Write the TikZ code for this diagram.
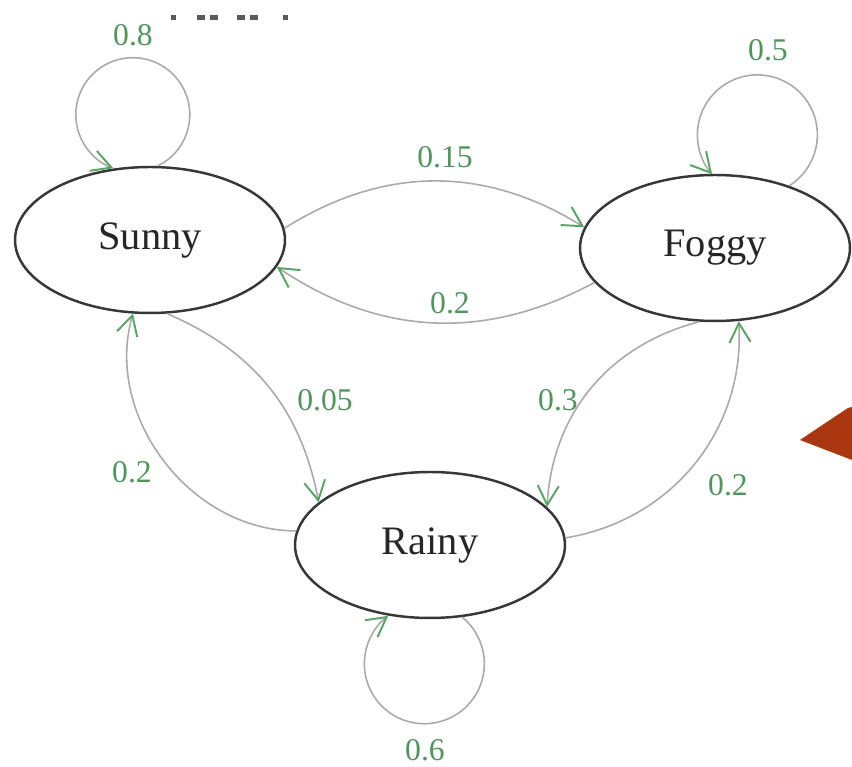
\documentclass[tikz,border=0pt]{standalone}
\usepackage{fontspec}
\setmainfont{Liberation Serif}
\usetikzlibrary{shapes.geometric,arrows.meta}
\definecolor{lblgreen}{RGB}{78,150,90}
\definecolor{arrgreen}{RGB}{85,165,100}
\definecolor{edgegray}{RGB}{170,170,170}
\definecolor{ringgray}{RGB}{55,55,55}
\definecolor{redarrow}{RGB}{170,55,15}
\definecolor{markgray}{RGB}{90,90,90}
\begin{document}
\begin{tikzpicture}[x=0.02cm,y=0.02cm,
  state/.style={ellipse,draw=ringgray,line width=1.4pt,minimum width=5.4cm,minimum height=2.92cm,inner sep=0pt,font=\fontsize{23}{27}\selectfont,text=black!85},
  edge/.style={draw=edgegray,line width=0.9pt,-{Straight Barb[length=11pt,width=12pt,color=arrgreen,line width=1.1pt]}},
  lbl/.style={text=lblgreen,font=\fontsize{18}{22}\selectfont,inner sep=0pt}]
\useasboundingbox (0,0) rectangle (852,767);
\fill[white] (0,0) rectangle (852,767);

% states
\node[state] (S) at (150,527) {Sunny};
\node[state] (F) at (715,519) {Foggy};
\node[state] (R) at (430,222) {Rainy};

% transitions
\draw[edge] (S.5) to[bend left=32] (F.171);
\draw[edge] (F.196) to[bend left=31] (S.348);
\draw[edge] (S.283) to[bend left=28] (R.159);
\draw[edge] (R.174) to[bend left=53] (S.257);
\draw[edge] (F.258) to[bend right=36] (R.18);
\draw[edge] (R.3) to[bend right=42] (F.288);

% self loops
\draw[edge] (S.84) arc[start angle=-64,end angle=250,radius=57];
\draw[edge] (F.40) arc[start angle=-58,end angle=221,radius=60];
\draw[edge] (R.-66) arc[start angle=51,end angle=-233,radius=60];

% labels
\node[lbl] (l1) at (133,732) {0.8};
\node[lbl] (l2) at (768,717) {0.5};
\node[lbl] (l3) at (445,610) {0.15};
\node[lbl] (l4) at (450,464) {0.2};
\node[lbl] (l5) at (325,367) {0.05};
\node[lbl] (l6) at (132,295) {0.2};
\node[lbl] (l7) at (558,367) {0.3};
\node[lbl] (l8) at (728,282) {0.2};
\node[lbl] (l9) at (425,17) {0.6};

% cut-off marks at top
\fill[markgray] (171,747) rectangle (176,752);
\fill[markgray] (197,747) rectangle (205,752);
\fill[markgray] (210,747) rectangle (218,752);
\fill[markgray] (237,747) rectangle (245,752);
\fill[markgray] (250,747) rectangle (258,752);
\fill[markgray] (283,747) rectangle (288,752);

% red arrowhead at right edge
\begin{scope}
  \clip (0,0) rectangle (852,767);
  \fill[redarrow] (800,327) -- (848,359) -- (860,362) -- (860,305) -- (852,307) -- cycle;
\end{scope}
\end{tikzpicture}
\end{document}
